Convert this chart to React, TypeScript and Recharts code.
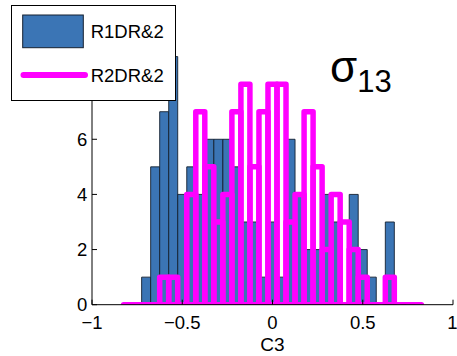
import React from 'react';
import { ComposedChart, Bar, XAxis, YAxis, Label } from 'recharts';

// Histogram bin centres (bin width 0.05)
const binCenters = [
  -0.8, -0.75, -0.7, -0.65, -0.6, -0.55, -0.5, -0.45, -0.4, -0.35, -0.3,
  -0.25, -0.2, -0.15, -0.1, -0.05, 0, 0.05, 0.1, 0.15, 0.2, 0.25, 0.3,
  0.35, 0.4, 0.45, 0.5, 0.55, 0.6, 0.65, 0.7, 0.75, 0.8,
];
// R1DR&2 counts (blue filled bars)
const r1Counts = [
  0, 0, 1, 5, 7, 9, 4, 5, 4, 6, 6,
  6, 5, 3, 3, 1, 3, 1, 6, 4, 2, 2, 4,
  3, 0, 4, 2, 1, 0, 3, 0, 0, 0,
];
// R2DR&2 counts (magenta outlined bars)
const r2Counts = [
  0, 0, 0, 0, 1, 1, 0, 4, 7, 5, 3,
  4, 7, 8, 5, 7, 8, 8, 3, 4, 7, 5, 2,
  4, 3, 2, 1, 0, 0, 1, 0, 0, 0,
];
const xTicks = [-1, -0.5, 0, 0.5, 1];
const yTicks = [0, 2, 4, 6, 8, 10];
const seriesNames = ['R1DR&2', 'R2DR&2'];
const xLabel = 'C3';

const BLUE = '#3b75b5';
const BLUE_EDGE = '#142030';
const MAGENTA = '#ff00ff';
const FONT = '"Liberation Sans", Arial, sans-serif';

const data = binCenters.map((c, i) => ({ c, r1: r1Counts[i], r2: r2Counts[i] }));

const fmt = (v: number) => (v < 0 ? '\u2212' + Math.abs(v) : String(v));

const OutlineBar = (props: any) => {
  const { x, y, width, height } = props;
  if (x == null || y == null || !isFinite(x) || !isFinite(y)) return null;
  const b = y + (height || 0);
  return (
    <path
      d={`M${x},${b}L${x},${y}L${x + width},${y}L${x + width},${b}Z`}
      fill="none"
      stroke={MAGENTA}
      strokeWidth={5.5}
      strokeLinejoin="round"
      strokeLinecap="round"
    />
  );
};

const tickStyle = { fontSize: 18.5, fill: '#000', fontFamily: FONT };

export default function App() {
  return (
    <div style={{ position: 'absolute', left: 0, top: 0, width: 457, height: 356, background: '#fff' }}>
      <ComposedChart
        width={457}
        height={356}
        data={data}
        margin={{ top: 29, right: 4, left: 52, bottom: 21.3 }}
        barCategoryGap={0}
        barGap={0}
      >
        <XAxis
          xAxisId="b"
          dataKey="c"
          type="number"
          domain={[-1, 1]}
          ticks={xTicks}
          allowDataOverflow
          height={30}
          tickFormatter={fmt}
          tick={tickStyle}
          tickSize={-5}
          tickMargin={16.5}
          stroke="#000"
          axisLine={{ stroke: '#000' }}
          tickLine={{ stroke: '#000' }}
        >
          <Label value={xLabel} position="bottom" offset={3} style={{ fontSize: 19, fill: '#000', fontFamily: FONT }} />
        </XAxis>
        <XAxis xAxisId="m" dataKey="c" type="number" domain={[-1, 1]} ticks={xTicks} allowDataOverflow hide />
        <XAxis
          xAxisId="t"
          orientation="top"
          type="number"
          domain={[-1, 1]}
          ticks={xTicks}
          allowDataOverflow
          height={0}
          tickFormatter={() => ''}
          tickSize={-5}
          axisLine={{ stroke: '#000' }}
          tickLine={{ stroke: '#000' }}
        />
        <YAxis
          yAxisId="l"
          type="number"
          domain={[0, 10]}
          ticks={yTicks}
          allowDataOverflow
          width={40}
          tickFormatter={fmt}
          tick={tickStyle}
          tickSize={-5}
          tickMargin={9.7}
          axisLine={{ stroke: '#000' }}
          tickLine={{ stroke: '#000' }}
        />
        <YAxis
          yAxisId="r"
          orientation="right"
          type="number"
          domain={[0, 10]}
          ticks={yTicks}
          allowDataOverflow
          width={0}
          tickFormatter={() => ''}
          tickSize={-5}
          axisLine={{ stroke: '#000' }}
          tickLine={{ stroke: '#000' }}
        />
        <Bar
          xAxisId="b"
          yAxisId="l"
          dataKey="r1"
          name={seriesNames[0]}
          fill={BLUE}
          stroke={BLUE_EDGE}
          strokeWidth={0.9}
          isAnimationActive={false}
        />
        <Bar
          xAxisId="m"
          yAxisId="l"
          dataKey="r2"
          name={seriesNames[1]}
          fill="none"
          shape={OutlineBar}
          isAnimationActive={false}
        />
      </ComposedChart>
      <svg
        width={457}
        height={356}
        style={{ position: 'absolute', left: 0, top: 0, pointerEvents: 'none' }}
      >
        <text x={330} y={82} fontFamily={FONT} fill="#000">
          <tspan fontSize={44}>σ</tspan>
          <tspan fontSize={31} dy={10}>13</tspan>
        </text>
        <g transform="translate(11,5)">
          <rect x={0.5} y={0.5} width={164} height={95} fill="#fff" stroke="#000" strokeWidth={1} />
          <rect x={11.7} y={10} width={60.6} height={32.7} fill={BLUE} stroke={BLUE_EDGE} strokeWidth={1} />
          <line x1={12.5} y1={70} x2={74} y2={70} stroke={MAGENTA} strokeWidth={6} strokeLinecap="round" />
          <text x={79.7} y={33.3} fontSize={18.5} fontFamily={FONT} fill="#000">{seriesNames[0]}</text>
          <text x={79.7} y={76.7} fontSize={18.5} fontFamily={FONT} fill="#000">{seriesNames[1]}</text>
        </g>
      </svg>
    </div>
  );
}
